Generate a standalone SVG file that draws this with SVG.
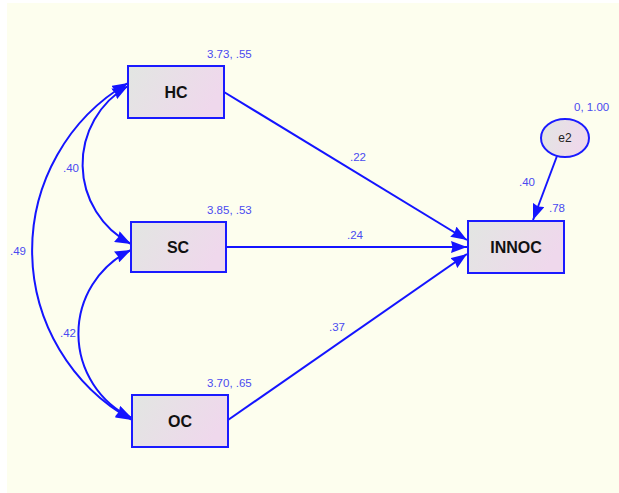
<svg xmlns="http://www.w3.org/2000/svg" width="619" height="493" viewBox="0 0 619 493">
<defs>
<linearGradient id="bg" x1="0" y1="0" x2="1" y2="0.3">
<stop offset="0" stop-color="#e2e6e2"/>
<stop offset="1" stop-color="#efd8ec"/>
</linearGradient>
<marker id="ah" markerUnits="userSpaceOnUse" markerWidth="17" markerHeight="12" refX="16" refY="6" orient="auto-start-reverse">
<path d="M0,0 L16,6 L0,12 L1.5,6 Z" fill="#1414ff"/>
</marker>
<style>
.box{fill:url(#bg);stroke:#1a1aff;stroke-width:2}
.lbl{font-family:"Liberation Sans",Arial,sans-serif;font-weight:bold;font-size:16px;fill:#111;text-anchor:middle}
.val{font-family:"Liberation Sans",Arial,sans-serif;font-size:11.5px;fill:#4a4af0}
.ln{fill:none;stroke:#1414ff;stroke-width:2}
</style>
</defs>
<rect x="7" y="3" width="612" height="490" fill="#fdfeee"/>
<g id="connectors">
<line class="ln" x1="224" y1="92" x2="467" y2="240" marker-end="url(#ah)"/>
<line class="ln" x1="226" y1="247" x2="467" y2="247" marker-end="url(#ah)"/>
<line class="ln" x1="228" y1="420" x2="467" y2="254" marker-end="url(#ah)"/>
<line class="ln" x1="557" y1="156" x2="533" y2="220" marker-end="url(#ah)"/>
<path class="ln" d="M128,83 A194,194 0 0 0 132,420" marker-start="url(#ah)" marker-end="url(#ah)"/>
<path class="ln" d="M128,86 A90,90 0 0 0 131,244" marker-start="url(#ah)" marker-end="url(#ah)"/>
<path class="ln" d="M131,250 A93,93 0 0 0 132,418" marker-start="url(#ah)" marker-end="url(#ah)"/>
<text class="val" x="350" y="161">.22</text>
<text class="val" x="347" y="239">.24</text>
<text class="val" x="329" y="331">.37</text>
<text class="val" x="519" y="186">.40</text>
<text class="val" x="63" y="172">.40</text>
<text class="val" x="10" y="255">.49</text>
<text class="val" x="60" y="337">.42</text>
</g>
<g id="HC">
<rect class="box" x="128" y="66" width="96" height="52"/>
<text class="lbl" x="176" y="98">HC</text>
<text class="val" x="207" y="58">3.73, .55</text>
</g>
<g id="SC">
<rect class="box" x="131" y="222" width="95" height="50"/>
<text class="lbl" x="178" y="253">SC</text>
<text class="val" x="207" y="214">3.85, .53</text>
</g>
<g id="OC">
<rect class="box" x="132" y="395" width="96" height="52"/>
<text class="lbl" x="180" y="427">OC</text>
<text class="val" x="207" y="387">3.70, .65</text>
</g>
<g id="INNOC">
<rect class="box" x="468" y="221" width="96" height="52"/>
<text class="lbl" x="516" y="253">INNOC</text>
<text class="val" x="549" y="212">.78</text>
</g>
<g id="e2">
<ellipse class="box" cx="565" cy="138" rx="24" ry="19"/>
<text x="565" y="142" font-family="Liberation Sans, Arial, sans-serif" font-size="12" fill="#222" text-anchor="middle">e2</text>
<text class="val" x="574" y="111">0, 1.00</text>
</g>
</svg>
